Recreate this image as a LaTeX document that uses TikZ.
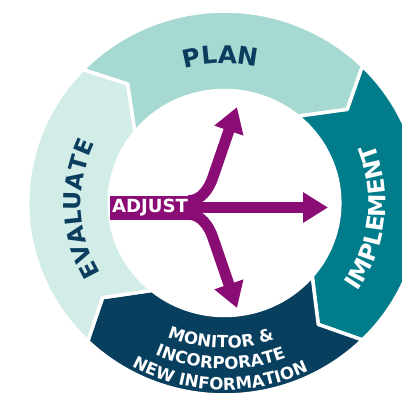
\documentclass[tikz,border=0pt]{standalone}
\usepackage{fontspec}
\setmainfont{DejaVu Sans}
\usetikzlibrary{arrows.meta,decorations.text}
\definecolor{plancol}{HTML}{A6D9D2}
\definecolor{evalcol}{HTML}{D2ECE8}
\definecolor{implcol}{HTML}{007C8A}
\definecolor{monicol}{HTML}{083E5E}
\definecolor{adjcol}{HTML}{8A0C75}
\definecolor{navycol}{HTML}{0A3D5E}
\newcommand\plantxt{\fontsize{14}{16}\selectfont\bfseries\color{navycol}}
\newcommand\evaltxt{\fontsize{13.3}{15}\selectfont\bfseries\color{navycol}}
\newcommand\impltxt{\fontsize{13.3}{15}\selectfont\bfseries\color{white}}
\newcommand\monitxt{\fontsize{9.5}{11}\selectfont\bfseries\color{white}}
\begin{document}
\begin{tikzpicture}[x=0.02cm,y=0.02cm]
	\tikzset{band/.style={draw=white,line width=0.07cm,line join=round},
		adjline/.style={draw=adjcol,line width=0.22cm,-{Triangle[length=0.5cm,width=0.58cm]}},
		ringtext/.style={decorate,decoration={text along path,text align=center,text={#1}}}}
	\useasboundingbox (-224.5,-197) rectangle (177.5,203);
	\clip (-224.5,-197) rectangle (177.5,203);
	\begin{scope}[xscale=1.025]
	% the four bands of the cycle
	\filldraw[band,fill=plancol] (136:192) arc[start angle=136,end angle=45.5,radius=192] -- (38:152) -- (50.5:112.5) arc[start angle=50.5,end angle=141,radius=112.5] -- (128.5:152) -- cycle;
	\filldraw[band,fill=implcol] (45.5:192) arc[start angle=45.5,end angle=-45.5,radius=192] -- (-53:152) -- (-40.5:112.5) arc[start angle=-40.5,end angle=50.5,radius=112.5] -- (38:152) -- cycle;
	\filldraw[band,fill=monicol] (-45.5:192) arc[start angle=-45.5,end angle=-134,radius=192] -- (-141.5:152) -- (-129:112.5) arc[start angle=-129,end angle=-40.5,radius=112.5] -- (-53:152) -- cycle;
	\filldraw[band,fill=evalcol] (226:192) arc[start angle=226,end angle=136,radius=192] -- (128.5:152) -- (141:112.5) arc[start angle=141,end angle=231,radius=112.5] -- (218.5:152) -- cycle;
	% labels on the bands
	\path[ringtext=|\plantxt|PLAN] (136.5:139.5) arc[start angle=136.5,end angle=46.5,radius=139.5];
	\path[ringtext=|\evaltxt|EVALUATE] (227.5:140) arc[start angle=227.5,end angle=137.5,radius=140];
	\path[ringtext=|\impltxt|IMPLEMENT] (-51:157) arc[start angle=-51,end angle=39,radius=157];
	\path[ringtext=|\monitxt|MONITOR {\&}] (-136.5:145) arc[start angle=-136.5,end angle=-46.5,radius=145];
	\path[ringtext=|\monitxt|INCORPORATE] (-136.5:166) arc[start angle=-136.5,end angle=-46.5,radius=166];
	\path[ringtext=|\monitxt|NEW INFORMATION] (-136.5:187) arc[start angle=-136.5,end angle=-46.5,radius=187];
	\end{scope}
	% adjust arrows
	\node[fill=adjcol,text=white,font=\fontsize{10.3}{12}\selectfont\bfseries,minimum width=1.62cm,minimum height=0.48cm,inner sep=0pt] (adjust) at (-74.5,-4.5) {ADJUST};
	\coordinate (upbend) at (-11.5,26);
	\coordinate (uptip) at (12.5,96);
	\coordinate (downbend) at (-11.5,-35);
	\coordinate (downtip) at (12.5,-105);
	\coordinate (midtip) at (103.5,-4.5);
	\draw[adjline] ([xshift=-0.04cm,yshift=-0.11cm]adjust.north east) .. controls +(12,0) and +(-4,-12) .. (upbend) -- (uptip);
	\draw[adjline] ([xshift=-0.04cm,yshift=0.11cm]adjust.south east) .. controls +(12,0) and +(-4,12) .. (downbend) -- (downtip);
	\draw[adjline] ([xshift=-0.04cm]adjust.east) -- (midtip);
\end{tikzpicture}
\end{document}
